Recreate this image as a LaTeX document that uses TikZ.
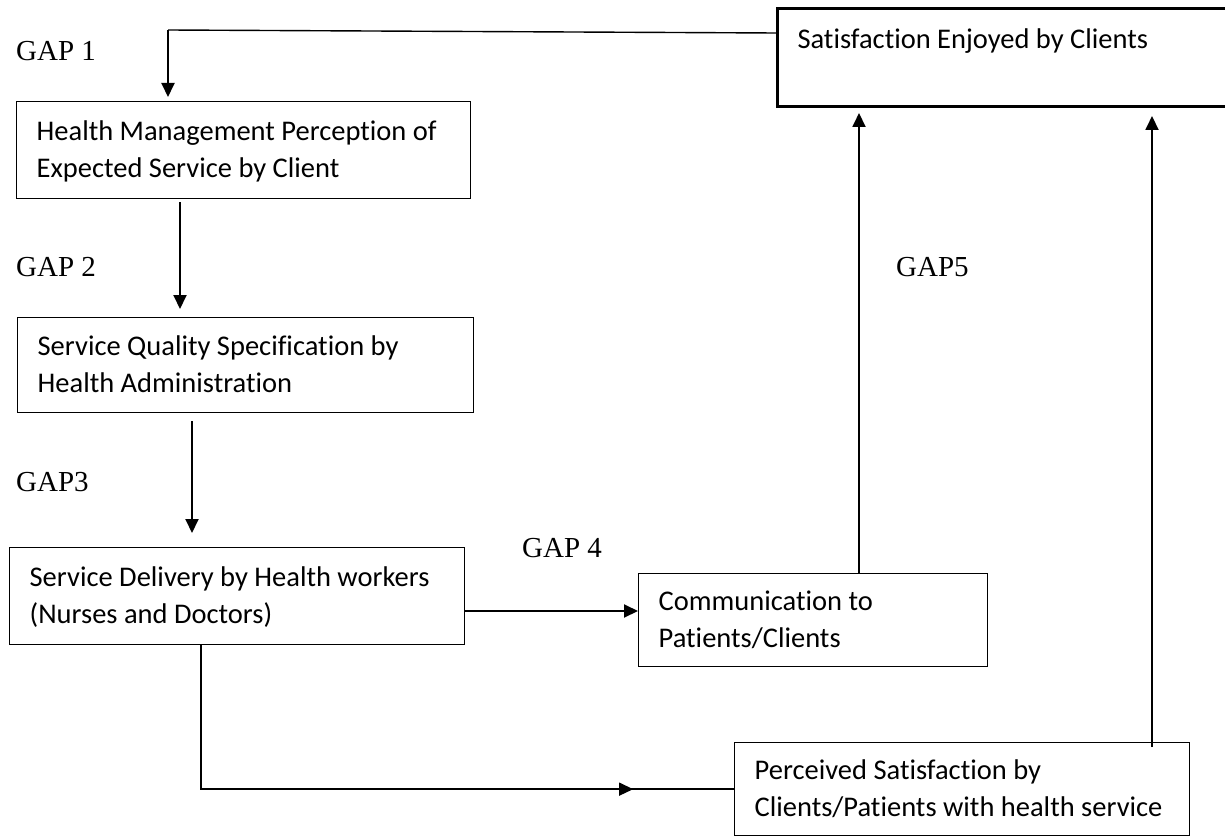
\documentclass[tikz,border=0pt]{standalone}
\usepackage{fontspec}
\setmainfont{Carlito}[Ligatures=NoCommon]
\newfontfamily\gapfont{Liberation Serif}
\usetikzlibrary{arrows.meta,calc,decorations.markings}
\newcommand\bxl[1]{\mbox{\rule[-6pt]{0pt}{30pt}#1}}
\begin{document}
\begin{tikzpicture}[x=1pt,y=-1pt,
  box/.style={draw, line width=1.3pt, anchor=north west, align=flush left,
    inner xsep=20pt, inner ysep=0pt,
    font=\fontsize{28.5}{37}\selectfont},
  gap/.style={anchor=base west, inner sep=0pt,
    font=\gapfont\fontsize{29}{34}\selectfont},
  conn/.style={line width=1.4pt},
  arr/.style={line width=1.9pt, -{Triangle[length=14pt,width=13pt]}},
  ]
\useasboundingbox (0,0) rectangle (1225,837);
\fill[white] (0,0) rectangle (1225,837);

% boxes
\node[box, text width=414pt, minimum height=97pt] (b1) at (16,101)
  {\bxl{Health Management Perception of}\\\bxl{Expected Service by Client}};
\node[box, text width=416pt, minimum height=95pt] (b2) at (17,317)
  {\bxl{Service Quality Specification by}\\\bxl{Health Administration}};
\node[box, text width=415pt, minimum height=97pt] (b3) at (9,547)
  {\bxl{Service Delivery by Health workers}\\\bxl{(Nurses and Doctors)}};
\node[box, text width=309pt, minimum height=93pt] (b4) at (638,573)
  {\bxl{Communication to}\\\bxl{Patients/Clients}};
\node[box, text width=415pt, minimum height=93pt] (b5) at (734,742)
  {\bxl{Perceived Satisfaction by}\\\bxl{Clients/Patients with health service}};
\node[box, line width=3pt, text width=424pt, minimum height=97.5pt] (sat) at (776,7.5)
  {\bxl{Satisfaction Enjoyed by Clients}\\\bxl{}};

% gap labels
\node[gap] (g1) at (16,61) {GAP 1};
\node[gap] (g2) at (16,276) {GAP 2};
\node[gap] (g3) at (16,491) {GAP3};
\node[gap] (g4) at (522,557) {GAP 4};
\node[gap] (g5) at (896,276) {GAP5};

% helper coordinates
\coordinate (tc) at (168,30);
\coordinate (x1) at (180,0);
\coordinate (x2) at (192,0);
\coordinate (y3) at (0,611);
\coordinate (x4) at (859,0);
\coordinate (x5) at (1152,0);
\coordinate (x6) at (201,0);

% connectors
\draw[conn] ($(sat.north west)+(0,25.5)$) -- (tc);
\draw[arr, shorten >=4pt] (tc) -- (tc |- b1.north);
\draw[arr, shorten <=3pt, shorten >=8pt] (x1 |- b1.south) -- (x1 |- b2.north);
\draw[arr, shorten <=8pt, shorten >=14pt] (x2 |- b2.south) -- (x2 |- b3.north);
\draw[arr] (b3.east |- y3) -- (b4.west |- y3);
\draw[arr, shorten >=5pt] (x4 |- b4.north) -- (x4 |- sat.south);
\draw[arr, shorten <=-5pt, shorten >=8pt] (x5 |- b5.north) -- (x5 |- sat.south);
\draw[conn, postaction={decorate},
  decoration={markings, mark=at position 0.851 with {
    \draw[line width=2.5pt] (-57pt,0) -- (-6pt,0);
    \arrow{Triangle[length=14pt,width=13pt]}}}]
  (x6 |- b3.south) |- (b5.west);
\end{tikzpicture}
\end{document}
